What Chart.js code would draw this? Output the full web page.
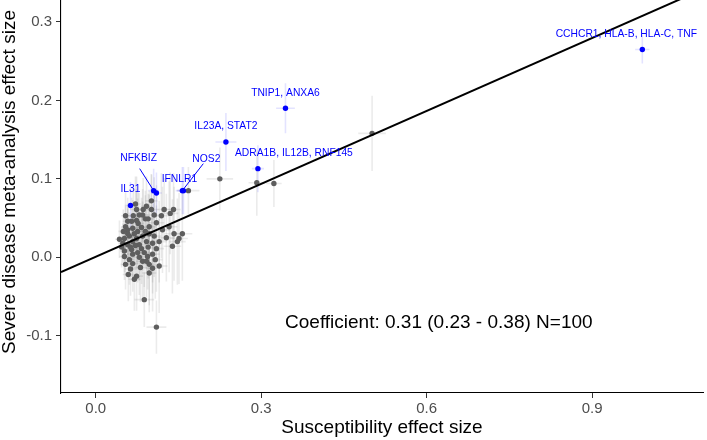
<!DOCTYPE html>
<html>
<head>
<meta charset="utf-8">
<script src="https://cdn.jsdelivr.net/npm/chart.js@4.4.1/dist/chart.umd.min.js"></script>
<style>
  html, body { margin: 0; padding: 0; background: #fff; }
  #wrap { width: 707px; height: 440px; overflow: hidden; position: relative; }
  #chart { display: block; margin-top: -33px; }
</style>
</head>
<body>
<div id="wrap"><canvas id="chart" width="707" height="473"></canvas></div>
<script>
// --- Data ---
const xTicks = [0.0, 0.3, 0.6, 0.9];
const yTicks = [-0.1, 0.0, 0.1, 0.2, 0.3];
const xMin = -0.063, xMax = 1.101;
const yMin = -0.173, yMax = 0.365;

// highlighted loci (blue)
const blueNames = ['CCHCR1, HLA-B, HLA-C, TNF', 'TNIP1, ANXA6', 'IL23A, STAT2', 'ADRA1B, IL12B, RNF145',
                   'NOS2', 'IFNLR1', 'NFKBIZ', '', 'IL31'];
const blueX    = [0.991, 0.344, 0.236, 0.294, 0.157, 0.159, 0.105, 0.110, 0.063];
const blueY    = [0.265, 0.190, 0.147, 0.113, 0.085, 0.085, 0.085, 0.082, 0.066];
const blueErrX = [0.013, 0.017, 0.019, 0.011, 0.012, 0.012, 0.010, 0.010, 0.008];
const blueErrY = [0.018, 0.032, 0.037, 0.030, 0.030, 0.030, 0.028, 0.026, 0.030];

// other loci (grey)
const grayX = [0.072,0.054,0.074,0.079,0.092,0.101,0.085,0.065,0.074,0.090,
  0.095,0.110,0.124,0.135,0.141,0.101,0.054,0.058,0.067,0.076,
  0.083,0.097,0.121,0.052,0.061,0.074,0.085,0.106,0.049,0.058,
  0.067,0.079,0.092,0.103,0.052,0.065,0.083,0.095,0.110,0.139,
  0.148,0.157,0.151,0.052,0.067,0.079,0.094,0.103,0.054,0.067,
  0.085,0.097,0.115,0.103,0.059,0.074,0.070,0.097,0.088,0.110,
  0.168,0.225,0.292,0.323,0.501,0.058,0.063,0.076,0.088,0.072,
  0.061,0.090,0.077,0.068,0.115,0.128,0.047,0.081,0.108,0.058,
  0.086,0.070,0.097,0.043,0.119,0.133,0.142,0.063,0.092,0.050,
  0.106];
const grayY = [0.068,0.053,0.061,0.054,0.065,0.061,0.054,0.046,0.047,0.049,
  0.049,0.044,0.061,0.056,0.061,0.072,0.039,0.035,0.037,0.033,
  0.038,0.030,0.035,0.024,0.027,0.024,0.027,0.027,0.018,0.016,
  0.020,0.016,0.020,0.018,0.008,0.010,0.011,0.013,0.011,0.014,
  0.020,0.030,0.024,0.001,0.004,0.000,0.001,0.004,-0.009,-0.008,
  -0.005,-0.009,-0.011,-0.014,-0.022,-0.024,-0.028,-0.020,-0.054,-0.089,
  0.085,0.100,0.095,0.094,0.158,0.030,0.013,0.006,0.006,0.015,
  -0.003,0.033,0.043,0.053,0.020,0.025,0.013,-0.013,-0.003,0.046,
  0.061,0.030,0.039,0.023,0.053,0.039,0.030,-0.015,-0.005,0.033,
  0.054];
const grayErrX = [0.010,0.008,0.012,0.009,0.011,0.013,0.010,0.009,0.012,0.011,
  0.010,0.014,0.012,0.015,0.013,0.011,0.008,0.009,0.010,0.012,
  0.011,0.013,0.014,0.008,0.009,0.011,0.012,0.013,0.008,0.009,
  0.010,0.012,0.011,0.013,0.008,0.010,0.012,0.011,0.014,0.016,
  0.015,0.018,0.016,0.009,0.010,0.012,0.011,0.013,0.009,0.010,
  0.012,0.013,0.015,0.014,0.010,0.012,0.011,0.013,0.018,0.018,
  0.020,0.024,0.015,0.014,0.025,0.009,0.010,0.011,0.012,0.010,
  0.009,0.012,0.011,0.010,0.014,0.015,0.008,0.012,0.013,0.009,
  0.011,0.010,0.012,0.008,0.014,0.015,0.016,0.010,0.012,0.009,
  0.013];
const grayErrY = [0.035,0.030,0.042,0.028,0.038,0.045,0.033,0.030,0.040,0.036,
  0.032,0.048,0.040,0.052,0.046,0.034,0.028,0.032,0.036,0.042,
  0.038,0.050,0.055,0.026,0.030,0.040,0.044,0.052,0.025,0.028,
  0.034,0.046,0.040,0.050,0.027,0.033,0.045,0.040,0.055,0.060,
  0.055,0.060,0.058,0.030,0.035,0.048,0.042,0.050,0.032,0.036,
  0.046,0.052,0.060,0.055,0.034,0.044,0.040,0.050,0.035,0.034,
  0.030,0.040,0.042,0.030,0.048,0.032,0.030,0.038,0.044,0.036,
  0.032,0.046,0.040,0.034,0.052,0.056,0.026,0.044,0.050,0.030,
  0.040,0.036,0.046,0.024,0.054,0.058,0.060,0.034,0.046,0.028,
  0.048];

// regression line end points
const fitX = [-0.063, 1.101];
const fitY = [-0.019, 0.342];

const coefText = 'Coefficient: 0.31 (0.23 - 0.38) N=100';
const coefAt = [0.622, -0.084];

// label placement (pixel offsets from the point), seg = leader line start
const labelLayout = [
  { dx: -16, dy: -15 },
  { dx: 0, dy: -15 },
  { dx: 0, dy: -16 },
  { dx: 36, dy: -16 },
  { dx: 24, dy: -31, seg: [21, -27] },
  { dx: -4, dy: -11 },
  { dx: -15, dy: -32, seg: [-14, -22] },
  null,
  { dx: 0, dy: -16 }
];

const FONT = '"Liberation Sans", Arial, Helvetica, sans-serif';
Chart.defaults.font.family = FONT;

const toPoints = (xs, ys) => xs.map((x, i) => ({ x: x, y: ys[i] }));

// --- Plugins ---
const errorBars = {
  id: 'errorBars',
  beforeDatasetsDraw(chart) {
    const { ctx, chartArea, scales: { x, y } } = chart;
    ctx.save();
    ctx.beginPath();
    ctx.rect(chartArea.left, chartArea.top, chartArea.width, chartArea.height);
    ctx.clip();
    ctx.lineWidth = 1.6;
    chart.data.datasets.forEach(ds => {
      if (!ds.errX) return;
      ctx.strokeStyle = ds.errColor;
      ds.data.forEach((p, i) => {
        const px = x.getPixelForValue(p.x), py = y.getPixelForValue(p.y);
        ctx.beginPath();
        ctx.moveTo(x.getPixelForValue(p.x - ds.errX[i]), py);
        ctx.lineTo(x.getPixelForValue(p.x + ds.errX[i]), py);
        ctx.moveTo(px, y.getPixelForValue(p.y - ds.errY[i]));
        ctx.lineTo(px, y.getPixelForValue(p.y + ds.errY[i]));
        ctx.stroke();
      });
    });
    ctx.restore();
  }
};

const geneLabels = {
  id: 'geneLabels',
  afterDatasetsDraw(chart) {
    const { ctx } = chart;
    const meta = chart.getDatasetMeta(1);
    ctx.save();
    ctx.font = '10.3px ' + FONT;
    ctx.fillStyle = '#0000ff';
    ctx.strokeStyle = '#0000ff';
    ctx.lineWidth = 1;
    ctx.textAlign = 'center';
    ctx.textBaseline = 'middle';
    blueNames.forEach((name, i) => {
      const lay = labelLayout[i];
      if (!name || !lay) return;
      const el = meta.data[i];
      if (lay.seg) {
        ctx.beginPath();
        ctx.moveTo(el.x + lay.seg[0], el.y + lay.seg[1]);
        ctx.lineTo(el.x, el.y);
        ctx.stroke();
      }
      ctx.fillText(name, el.x + lay.dx, el.y + lay.dy);
    });
    ctx.restore();
  }
};

const coefLabel = {
  id: 'coefLabel',
  afterDatasetsDraw(chart) {
    const { ctx, scales: { x, y } } = chart;
    ctx.save();
    ctx.font = '19px ' + FONT;
    ctx.fillStyle = '#000';
    ctx.textAlign = 'center';
    ctx.textBaseline = 'middle';
    ctx.fillText(coefText, x.getPixelForValue(coefAt[0]), y.getPixelForValue(coefAt[1]));
    ctx.restore();
  }
};

// --- Chart ---
const ctx = document.getElementById('chart').getContext('2d');
new Chart(ctx, {
  type: 'scatter',
  data: {
    datasets: [
      {
        label: 'fit', type: 'line',
        data: toPoints(fitX, fitY),
        borderColor: '#000', borderWidth: 2, pointRadius: 0, fill: false, order: 0
      },
      {
        label: 'highlighted',
        data: toPoints(blueX, blueY),
        errX: blueErrX, errY: blueErrY, errColor: 'rgba(0, 0, 255, 0.11)',
        backgroundColor: '#0000ff', borderWidth: 0, pointRadius: 2.7, order: 1
      },
      {
        label: 'other',
        data: toPoints(grayX, grayY),
        errX: grayErrX, errY: grayErrY, errColor: 'rgba(90, 90, 90, 0.12)',
        backgroundColor: '#5e5e5e', borderWidth: 0, pointRadius: 2.7, order: 2
      }
    ]
  },
  options: {
    responsive: false,
    animation: false,
    layout: { padding: 0 },
    plugins: { legend: { display: false }, tooltip: { enabled: false } },
    scales: {
      x: {
        type: 'linear', min: xMin, max: xMax,
        afterBuildTicks: s => { s.ticks = xTicks.map(v => ({ value: v })); },
        afterFit: s => { s.height = 47; s.paddingLeft = 0; s.paddingRight = 0; },
        ticks: { callback: v => v.toFixed(1), color: '#4d4d4d', font: { size: 15 }, padding: 2, maxRotation: 0, autoSkip: false },
        grid: { drawOnChartArea: false, drawTicks: true, tickLength: 5, color: '#333333', lineWidth: 1 },
        border: { display: true, color: '#000', width: 1.1 },
        title: { display: true, text: 'Susceptibility effect size', color: '#000', font: { size: 19 }, padding: { top: 0, bottom: 1 } }
      },
      y: {
        type: 'linear', min: yMin, max: yMax,
        afterBuildTicks: s => { s.ticks = yTicks.map(v => ({ value: v })); },
        afterFit: s => { s.width = 61; s.paddingTop = 0; s.paddingBottom = 0; },
        ticks: { callback: v => v.toFixed(1), color: '#4d4d4d', font: { size: 15 }, padding: 4, autoSkip: false },
        grid: { drawOnChartArea: false, drawTicks: true, tickLength: 5, color: '#333333', lineWidth: 1 },
        border: { display: true, color: '#000', width: 1.1 },
        title: { display: true, text: 'Severe disease meta-analysis effect size', color: '#000', font: { size: 19 }, padding: { top: -2, bottom: 0 } }
      }
    }
  },
  plugins: [errorBars, geneLabels, coefLabel]
});
</script>
</body>
</html>
